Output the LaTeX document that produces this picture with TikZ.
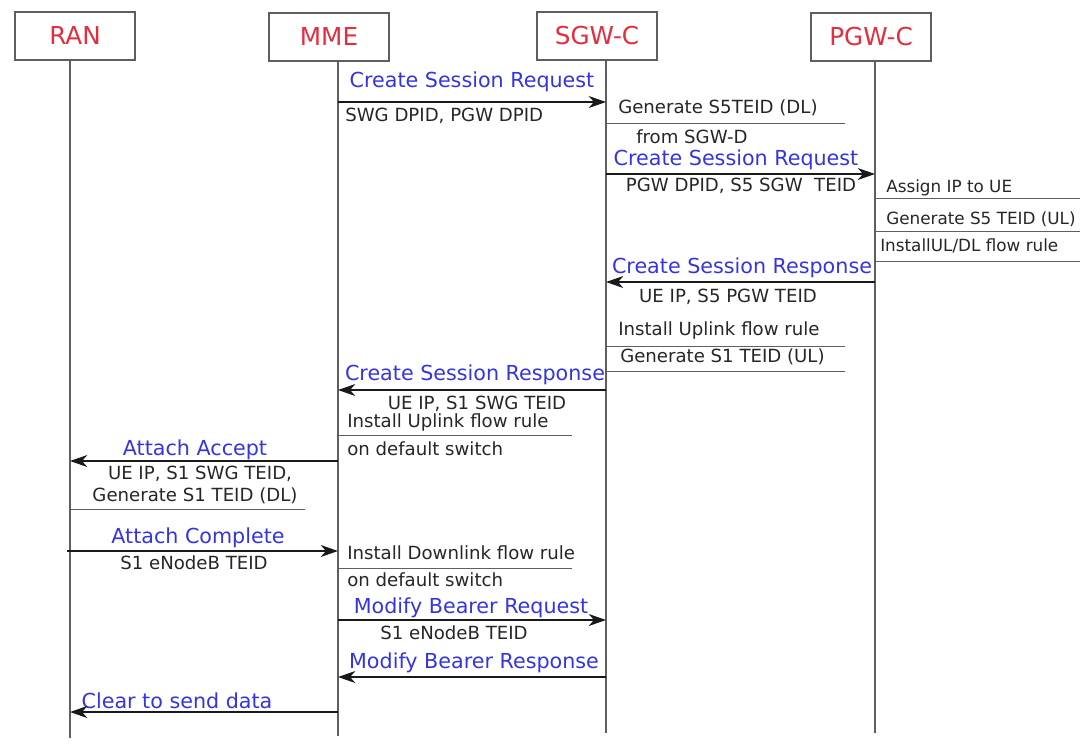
\documentclass[tikz,border=0pt]{standalone}
\usepackage{fontspec}
\setmainfont{DejaVu Sans}
\usetikzlibrary{arrows.meta}
\definecolor{actorred}{RGB}{228,45,62}
\definecolor{msgblue}{RGB}{52,52,225}
\definecolor{linegray}{RGB}{95,95,95}
\tikzset{
    actor/.style={draw=linegray, line width=1.2pt, minimum width=90pt, minimum height=36pt,
        text=actorred, font=\fontsize{18.5}{20}\selectfont},
    lbl/.style={inner sep=0pt, text=msgblue, font=\fontsize{15.5}{18}\selectfont},
    note/.style={inner sep=0pt, text=black!85, font=\fontsize{13.6}{16}\selectfont},
    lnote/.style={note, anchor=west},
    snote/.style={lnote, font=\fontsize{12.6}{15}\selectfont},
    life/.style={draw=linegray, line width=1.2pt},
    msg/.style={draw=black!90, line width=1.1pt, -{Stealth[length=13pt,width=9pt,inset=4pt]}},
    rule/.style={draw=linegray, line width=0.7pt}
}
\begin{document}
\begin{tikzpicture}[x=0.75pt, y=-0.75pt]
    \useasboundingbox (0,0) rectangle (1080,744);
    % entities
    \node[actor] (ran) at (75,36) {RAN};
    \node[actor] (mme) at (329,37) {MME};
    \node[actor] (sgw) at (597,36) {SGW-C};
    \node[actor] (pgw) at (871,37) {PGW-C};
    \coordinate (ranL) at (70,738);
    \coordinate (mmeL) at (338,736);
    \coordinate (sgwL) at (606,733);
    \coordinate (pgwL) at (875,733);
    \coordinate (edge) at (1080,0);
    \draw[life] (ran.south -| ranL) -- (ranL);
    \draw[life] (mme.south -| mmeL) -- (mmeL);
    \draw[life] (sgw.south -| sgwL) -- (sgwL);
    \draw[life] (pgw.south -| pgwL) -- (pgwL);

    % MME -> SGW-C
    \node[lbl] (csreqA) at (472,82) {Create Session Request};
    \draw[msg] (mmeL |- 0,102) -- (sgwL |- 0,102);
    \node[lnote] (dpidA) at (345,116) {SWG DPID, PGW DPID};

    % SGW-C local step
    \node[lnote] (s5dl) at (618,108) {Generate S5TEID (DL)};
    \draw[rule] (sgwL |- 0,123) -- (845,123);
    \node[lnote] (sgwd) at (636,137) {from SGW-D};

    % SGW-C -> PGW-C
    \node[lbl] (csreqB) at (736,160) {Create Session Request};
    \draw[msg] (sgwL |- 0,174) -- (pgwL |- 0,174);
    \node[note] (dpidB) at (741,186) {PGW DPID, S5 SGW\ \ TEID};

    % PGW-C local steps
    \node[snote] (ipue) at (886,188) {Assign IP to UE};
    \draw[rule] (pgwL |- 0,198) -- (edge |- 0,198);
    \node[snote] (s5ul) at (886,219) {Generate S5 TEID (UL)};
    \draw[rule] (pgwL |- 0,231) -- (edge |- 0,231);
    \node[snote] (uldl) at (880,246) {InstallUL/DL flow rule};
    \draw[rule] (pgwL |- 0,261) -- (edge |- 0,261);

    % PGW-C -> SGW-C
    \node[lbl] (csrespB) at (742,268) {Create Session Response};
    \draw[msg] (pgwL |- 0,282) -- (sgwL |- 0,282);
    \node[note] (pgwteid) at (728,297) {UE IP, S5 PGW TEID};

    % SGW-C local steps
    \node[lnote] (uprule) at (618,330) {Install Uplink flow rule};
    \draw[rule] (sgwL |- 0,346) -- (845,346);
    \node[lnote] (s1ul) at (620,357) {Generate S1 TEID (UL)};
    \draw[rule] (sgwL |- 0,371) -- (845,371);

    % SGW-C -> MME
    \node[lbl] (csrespA) at (475,375) {Create Session Response};
    \draw[msg] (sgwL |- 0,390) -- (mmeL |- 0,390);
    \node[note] (swgteid) at (477,404) {UE IP, S1 SWG TEID};
    \node[lnote] (upsw) at (347,422) {Install Uplink flow rule};
    \draw[rule] (mmeL |- 0,435) -- (572,435);
    \node[lnote] (defA) at (347,449) {on default switch};

    % MME -> RAN
    \node[lbl] (accept) at (195,450) {Attach Accept};
    \draw[msg] (mmeL |- 0,461) -- (ranL |- 0,461);
    \node[note] (acceptA) at (200,474) {UE IP, S1 SWG TEID,};
    \node[note] (acceptB) at (195,496) {Generate S1 TEID (DL)};
    \draw[rule] (ranL |- 0,509) -- (305,509);

    % RAN -> MME
    \node[lbl] (complete) at (198,538) {Attach Complete};
    \draw[msg] (67,551) -- (mmeL |- 0,551);
    \node[note] (enbA) at (194,563) {S1 eNodeB TEID};
    \node[lnote] (dnsw) at (347,553) {Install Downlink flow rule};
    \draw[rule] (mmeL |- 0,568) -- (572,568);
    \node[lnote] (defB) at (347,580) {on default switch};

    % bearer modification
    \node[lbl] (mbreq) at (471,608) {Modify Bearer Request};
    \draw[msg] (mmeL |- 0,620) -- (sgwL |- 0,620);
    \node[note] (enbB) at (454,633) {S1 eNodeB TEID};
    \node[lbl] (mbresp) at (474,663) {Modify Bearer Response};
    \draw[msg] (sgwL |- 0,677) -- (mmeL |- 0,677);

    % MME -> RAN
    \node[lbl] (clear) at (177,701) {Clear to send data};
    \draw[msg] (mmeL |- 0,712) -- (ranL |- 0,712);
\end{tikzpicture}
\end{document}
